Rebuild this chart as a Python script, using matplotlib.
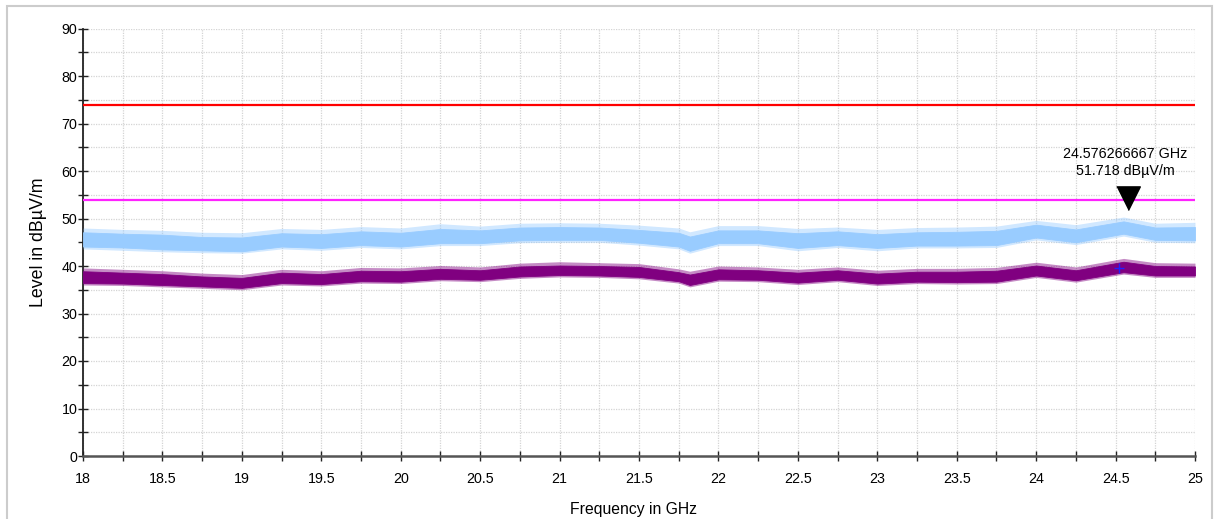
import matplotlib
matplotlib.use("Agg")
import matplotlib.pyplot as plt
from matplotlib.patches import Rectangle

plt.rcParams['font.family'] = ['Liberation Sans', 'DejaVu Sans']

# ---- data ----
freq = [18.0, 18.25, 18.5, 18.75, 19.0, 19.25, 19.5, 19.75, 20.0, 20.25,
        20.5, 20.75, 21.0, 21.25, 21.5, 21.75, 21.82, 22.0, 22.25, 22.5,
        22.75, 23.0, 23.25, 23.5, 23.75, 24.0, 24.25, 24.55, 24.75, 25.0]

# peak detector trace: solid core band and outer spike envelope
peak_low = [44.1, 43.9, 43.5, 43.3, 43.1, 44.1, 43.8, 44.4, 44.1, 44.8,
            44.8, 45.4, 45.5, 45.5, 44.9, 44.1, 43.2, 44.8, 44.8, 43.8,
            44.4, 43.8, 44.3, 44.3, 44.4, 46.0, 45.0, 46.8, 45.5, 45.4]
peak_high = [47.1, 46.8, 46.6, 46.1, 46.0, 46.9, 46.7, 47.3, 47.0, 47.8,
             47.5, 48.1, 48.2, 48.1, 47.6, 47.0, 46.2, 47.5, 47.5, 46.9,
             47.3, 46.7, 47.1, 47.2, 47.4, 48.7, 47.7, 49.4, 48.1, 48.2]
peak_spike_low = [43.6, 43.3, 43.0, 42.8, 42.7, 43.6, 43.3, 43.9, 43.6, 44.3,
                  44.3, 44.9, 45.0, 45.0, 44.4, 43.6, 42.7, 44.3, 44.3, 43.2,
                  43.9, 43.2, 43.8, 43.8, 43.9, 45.5, 44.5, 46.3, 45.0, 44.9]
peak_spike_high = [48.0, 47.7, 47.5, 47.1, 47.0, 47.9, 47.7, 48.3, 48.0, 48.9,
                   48.4, 49.0, 49.1, 49.0, 48.6, 48.0, 47.2, 48.5, 48.5, 47.9,
                   48.2, 47.7, 48.1, 48.2, 48.4, 49.6, 48.7, 50.3, 49.0, 49.2]

# average detector trace
avg_low = [36.4, 36.3, 36.0, 35.7, 35.4, 36.4, 36.2, 36.8, 36.7, 37.3,
           37.1, 37.8, 38.1, 38.0, 37.7, 36.8, 36.0, 37.2, 37.1, 36.5,
           37.1, 36.3, 36.7, 36.6, 36.7, 38.0, 37.0, 38.7, 38.0, 38.0]
avg_high = [38.9, 38.6, 38.3, 37.8, 37.5, 38.6, 38.3, 39.0, 38.9, 39.4,
            39.1, 39.9, 40.1, 40.0, 39.8, 38.7, 38.2, 39.3, 39.1, 38.6,
            39.1, 38.4, 38.8, 38.8, 39.0, 40.1, 39.1, 40.9, 40.0, 39.9]
avg_spike_low = [36.0, 35.9, 35.6, 35.3, 35.0, 36.0, 35.8, 36.4, 36.3, 36.9,
                 36.7, 37.4, 37.7, 37.6, 37.3, 36.4, 35.6, 36.8, 36.7, 36.1,
                 36.7, 35.9, 36.3, 36.2, 36.3, 37.6, 36.6, 38.3, 37.6, 37.6]
avg_spike_high = [39.6, 39.3, 39.0, 38.5, 38.2, 39.3, 39.0, 39.7, 39.6, 40.1,
                  39.8, 40.6, 40.9, 40.7, 40.5, 39.4, 38.9, 40.0, 39.8, 39.3,
                  39.8, 39.1, 39.5, 39.5, 39.7, 40.8, 39.8, 41.6, 40.7, 40.6]

limit_peak = 74.0
limit_avg = 54.0

marker_f = 24.576266667
marker_v = 51.718
marker_text = "24.576266667 GHz\n51.718 dBµV/m"

plus_f = 24.52
plus_v = 39.6

x_ticks = [18, 18.5, 19, 19.5, 20, 20.5, 21, 21.5, 22, 22.5, 23, 23.5, 24, 24.5, 25]
x_tick_labels = ["18", "18.5", "19", "19.5", "20", "20.5", "21", "21.5", "22",
                 "22.5", "23", "23.5", "24", "24.5", "25"]
y_ticks = [0, 10, 20, 30, 40, 50, 60, 70, 80, 90]

# ---- figure ----
fig = plt.figure(figsize=(12.16, 5.19), dpi=100)
ax = fig.add_axes([83 / 1216, 1 - 456 / 519, 1112 / 1216, 427.5 / 519])

# figure border
fig.patches.append(Rectangle((7 / 1216, -0.2), 1205 / 1216, 1.2 - 6 / 519,
                             transform=fig.transFigure, fill=False,
                             edgecolor='#cccccc', linewidth=1.5))

ax.set_xlim(18, 25)
ax.set_ylim(0, 90)

ax.fill_between(freq, peak_spike_low, peak_spike_high, color='#99ccff',
                alpha=0.45, linewidth=0, zorder=3)
ax.fill_between(freq, peak_low, peak_high, color='#99ccff', linewidth=0.6,
                edgecolor='#99ccff', zorder=3)
ax.fill_between(freq, avg_spike_low, avg_spike_high, color='#800080',
                alpha=0.45, linewidth=0, zorder=4)
ax.fill_between(freq, avg_low, avg_high, color='#800080', linewidth=0.6,
                edgecolor='#800080', zorder=4)

ax.axhline(limit_peak, color='#ff0000', linewidth=1.6, zorder=5)
ax.axhline(limit_avg, color='#ff22ff', linewidth=1.6, zorder=5)

tri = [(-0.5, 1.0), (0.5, 1.0), (0.0, 0.0)]
ax.plot([marker_f], [marker_v], marker=tri, markersize=34, color='black',
        linestyle='none', zorder=6, clip_on=False)
ax.annotate(marker_text, xy=(marker_f, marker_v), xytext=(-2, 23),
            textcoords='offset points', ha='center', va='bottom',
            fontsize=10.3, linespacing=1.35, zorder=7)
ax.plot([plus_f], [plus_v], marker='+', markersize=7, color='#2020ff',
        markeredgewidth=1.0, linestyle='none', zorder=6)

ax.set_xticks(x_ticks)
ax.set_xticklabels(x_tick_labels)
ax.set_xticks([t + 0.25 for t in x_ticks[:-1]], minor=True)
ax.set_yticks(y_ticks)
ax.set_yticks([t + 5 for t in y_ticks[:-1]], minor=True)

ax.tick_params(axis='both', which='both', direction='inout', length=7,
               width=1.0, color='#222222', labelsize=10.3)
ax.tick_params(axis='y', which='both', pad=0.5)
ax.tick_params(axis='x', which='both', pad=8)

ax.grid(True, which='both', color='#d4d4d4', linestyle=(0, (1, 1)), linewidth=0.9)
ax.set_axisbelow(True)

for s in ('top', 'right'):
    ax.spines[s].set_visible(False)
ax.spines['left'].set_color('#222222')
ax.spines['left'].set_linewidth(1.3)
ax.spines['bottom'].set_color('#555555')
ax.spines['bottom'].set_linewidth(1.8)

ax.set_ylabel("Level in dBµV/m", fontsize=12.8)
ax.yaxis.set_label_coords(-0.0324, 0.5)
ax.set_xlabel("Frequency in GHz", fontsize=11.3)
ax.xaxis.set_label_coords(0.495, -0.1076)

fig.savefig("out.png", dpi=100)
